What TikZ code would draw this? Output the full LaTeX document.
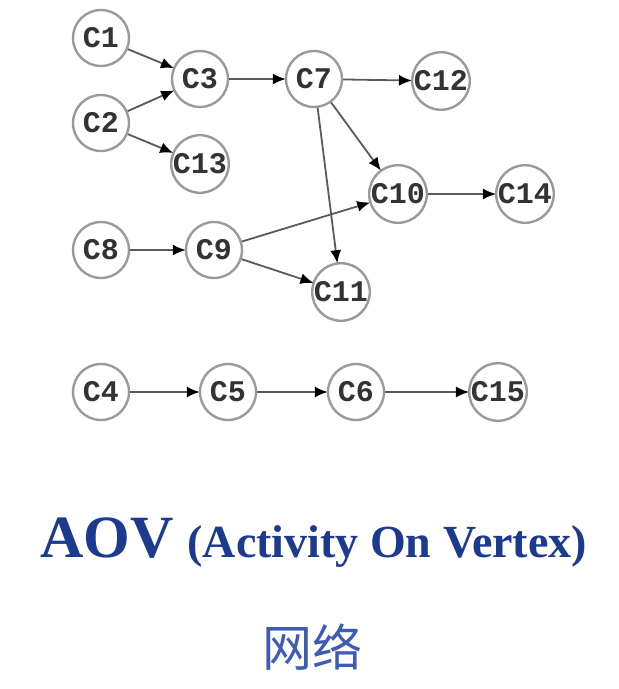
\documentclass[tikz,border=0pt]{standalone}
\usepackage{fontspec}
\setmainfont{Liberation Serif}
\newfontfamily\monofont{Liberation Mono}
\newfontfamily\cjkfont{Noto Sans CJK SC}
\usetikzlibrary{arrows.meta}
\definecolor{circgray}{HTML}{9A9A9A}
\definecolor{edgegray}{HTML}{5A5A5A}
\definecolor{txtgray}{HTML}{333333}
\definecolor{navy}{HTML}{1C3A8E}
\definecolor{cjkblue}{HTML}{3D5CB5}
\begin{document}
\begin{tikzpicture}[x=1pt,y=-1pt,
  vtx/.style={circle,draw=circgray,line width=2.4pt,fill=white,minimum size=56pt,inner sep=0pt,
    font=\monofont\bfseries\fontsize{30}{30}\selectfont,text=txtgray},
  edge/.style={draw=edgegray,line width=1.8pt,-{Latex[length=13pt,width=11pt,black]},shorten >=-1pt}]
\useasboundingbox (0,0) rectangle (619,689);
\fill[white] (0,0) rectangle (619,689);
\node[vtx] (c1) at (101,38) {C1};
\node[vtx] (c2) at (101,123) {C2};
\node[vtx] (c3) at (200,79) {C3};
\node[vtx] (c13) at (200,164) {C13};
\node[vtx] (c7) at (314,79) {C7};
\node[vtx] (c12) at (441,81) {C12};
\node[vtx] (c10) at (398,194) {C10};
\node[vtx] (c14) at (525,194) {C14};
\node[vtx] (c8) at (101,250) {C8};
\node[vtx] (c9) at (214,250) {C9};
\node[vtx] (c11) at (341,292) {C11};
\node[vtx] (c4) at (101,392) {C4};
\node[vtx] (c5) at (228,392) {C5};
\node[vtx] (c6) at (356,392) {C6};
\node[vtx] (c15) at (498,392) {C15};
\draw[edge] (c1) -- (c3);
\draw[edge] (c2) -- (c3);
\draw[edge] (c2) -- (c13);
\draw[edge] (c3) -- (c7);
\draw[edge] (c7) -- (c12);
\draw[edge] (c7) -- (c10);
\draw[edge] (c7) -- (c11);
\draw[edge] (c8) -- (c9);
\draw[edge] (c9) -- (c10);
\draw[edge] (c9) -- (c11);
\draw[edge] (c10) -- (c14);
\draw[edge] (c4) -- (c5);
\draw[edge] (c5) -- (c6);
\draw[edge] (c6) -- (c15);
\node[anchor=base west,inner sep=0pt,text=navy,font=\bfseries] (title) at (40,557)
  {{\fontsize{60}{60}\selectfont AOV}\hspace{14pt}{\fontsize{46}{46}\selectfont (Activity On Vertex)}};
\node[inner sep=0pt,text=cjkblue,font=\cjkfont\fontsize{50}{50}\selectfont] (sub) at (312,647) {网络};
\end{tikzpicture}
\end{document}
